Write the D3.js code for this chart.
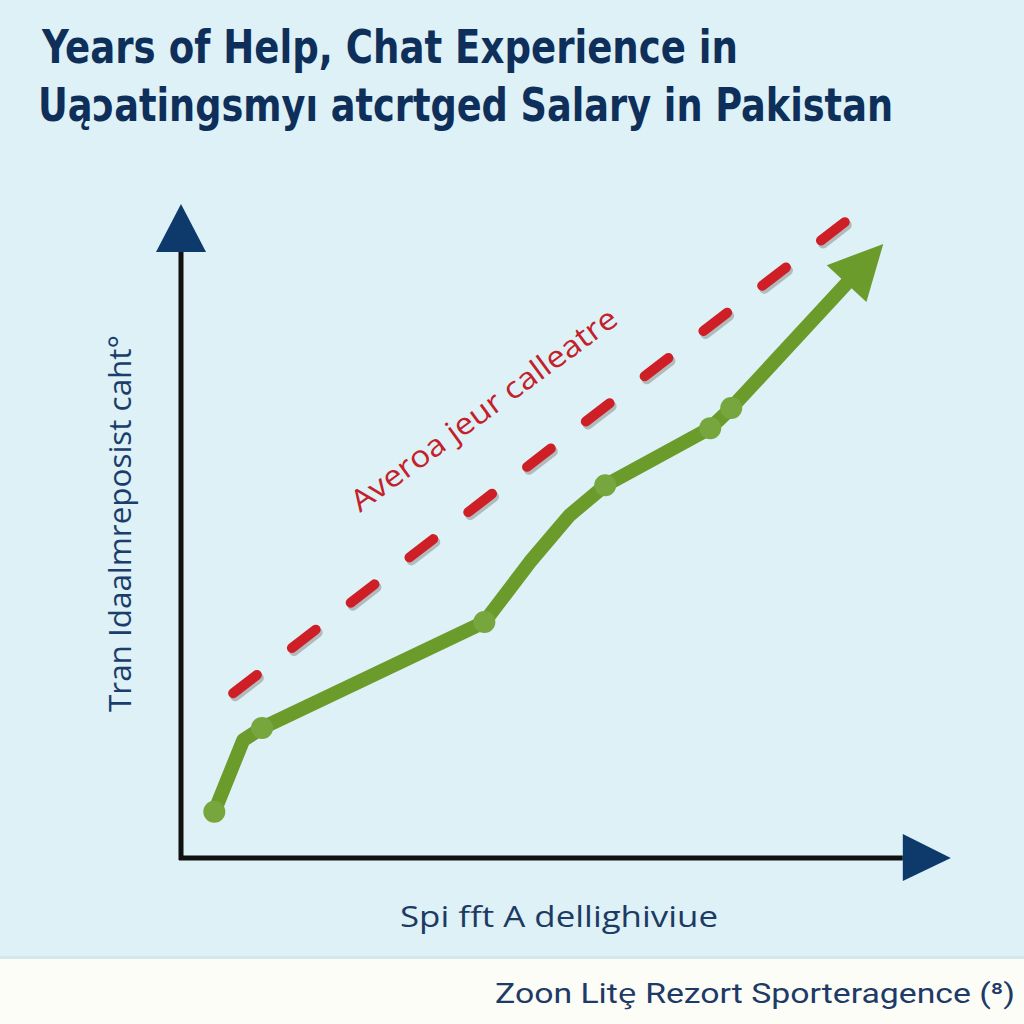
<!DOCTYPE html>
<html><head><meta charset="utf-8">
<script src="https://cdn.jsdelivr.net/npm/d3@7"></script>
<style>html,body{margin:0;padding:0;background:#ddf1f6;}svg{display:block;}</style>
</head><body>
<script>
// ---- data ----
const titleLines = ["Years of Help, Chat Experience in", "Uąɔatingsmyı atcrtged Salary in Pakistan"];
const yLabel = "Tran Idaalmreposist caht°";
const xLabel = "Spi fft A dellighiviue";
const avgLabel = "Averoa jeur calleatre";
const footer = "Zoon Litȩ Rezort Sporteragence (⁸)";

const years  = [0.46, 0.86, 1.12, 4.19, 4.82, 5.37, 5.86, 7.31, 7.60, 9.70];
const salary = [7.6, 19.4, 21.4, 38.8, 48.7, 56.4, 61.3, 70.7, 74.0, 101.0];
const marked = [true, false, true, true, false, false, true, true, true, false];

const avgYears  = [0.72, 9.17];
const avgSalary = [27.1, 104.6];

// ---- setup ----
const W = 1024, H = 1024;
const svg = d3.select("body").append("svg").attr("width", W).attr("height", H);
const x = d3.scaleLinear().domain([0, 10]).range([181, 905]);
const y = d3.scaleLinear().domain([0, 100]).range([858, 250]);

svg.append("rect").attr("width", W).attr("height", 960).attr("fill", "#ddf1f6");
svg.append("rect").attr("y", 959).attr("width", W).attr("height", 65).attr("fill", "#fdfdf8");
svg.append("rect").attr("y", 956).attr("width", W).attr("height", 3).attr("fill", "#d4e8ec");

// ---- title ----
const navy = "#0f2f5b";
const tl = [{t: titleLines[0], x: 42, y: 63, w: 696}, {t: titleLines[1], x: 38, y: 121, w: 855}];
svg.selectAll("text.title").data(tl).join("text").attr("class", "title")
  .attr("x", d => d.x).attr("y", d => d.y)
  .attr("textLength", d => d.w).attr("lengthAdjust", "spacingAndGlyphs")
  .attr("font-family", "'DejaVu Sans Condensed', 'Open Sans', sans-serif")
  .attr("font-weight", "bold").attr("font-size", 46).attr("fill", navy)
  .text(d => d.t);

// ---- axes ----
const x0 = x(0), y0 = y(0);
svg.append("line").attr("x1", x0).attr("y1", y0 + 2).attr("x2", x0).attr("y2", y(100) + 2)
  .attr("stroke", "#111").attr("stroke-width", 5);
svg.append("line").attr("x1", x0 - 2).attr("y1", y0).attr("x2", x(9.97)).attr("y2", y0)
  .attr("stroke", "#111").attr("stroke-width", 5);
svg.append("path").attr("fill", "#0d3a6b")
  .attr("d", `M${x0},${y(100) - 46} L${x0 + 25},${y(100) + 2} L${x0 - 25},${y(100) + 2} Z`);
svg.append("path").attr("fill", "#0d3a6b")
  .attr("d", `M${x(9.97) + 48},${y0} L${x(9.97)},${y0 - 24} L${x(9.97)},${y0 + 23} Z`);

// ---- axis labels ----
svg.append("text").attr("transform", `translate(131,${(712 + 335) / 2}) rotate(-90)`)
  .attr("text-anchor", "middle").attr("textLength", 377).attr("lengthAdjust", "spacingAndGlyphs")
  .attr("font-family", "'Open Sans', sans-serif").attr("font-size", 31).attr("fill", "#1a3d6b")
  .text(yLabel);
svg.append("text").attr("x", 559).attr("y", 927).attr("text-anchor", "middle")
  .attr("textLength", 318).attr("lengthAdjust", "spacingAndGlyphs")
  .attr("font-family", "'Open Sans', sans-serif").attr("font-size", 30).attr("fill", "#1d3a63")
  .text(xLabel);

// ---- average dashed line ----
const avgData = avgYears.map((v, i) => [v, avgSalary[i]]);
const avgLine = d3.line().x(d => x(d[0])).y(d => y(d[1]));
const dash = "30 44.2";
svg.append("path").attr("d", avgLine(avgData)).attr("transform", "translate(2,3)")
  .attr("fill", "none").attr("stroke", "#8d8d8d").attr("stroke-opacity", 0.55)
  .attr("stroke-width", 10).attr("stroke-linecap", "round").attr("stroke-dasharray", dash);
svg.append("path").attr("d", avgLine(avgData))
  .attr("fill", "none").attr("stroke", "#cf1f26")
  .attr("stroke-width", 10).attr("stroke-linecap", "round").attr("stroke-dasharray", dash);

svg.append("text").attr("transform", "translate(360,513) rotate(-36.2)")
  .attr("textLength", 322).attr("lengthAdjust", "spacingAndGlyphs")
  .attr("font-family", "'Open Sans', sans-serif").attr("font-size", 30).attr("fill", "#c4202a")
  .text(avgLabel);

// ---- green series ----
const pts = years.map((v, i) => [x(v), y(salary[i])]);
const tip = pts[pts.length - 1], prev = pts[pts.length - 2];
const dx = tip[0] - prev[0], dy = tip[1] - prev[1], len = Math.hypot(dx, dy);
const ux = dx / len, uy = dy / len;
const headLen = 54, headHalf = 27;
const base = [tip[0] - ux * headLen, tip[1] - uy * headLen];
const linePts = pts.slice(0, -1).concat([[base[0] + ux * 4, base[1] + uy * 4]]);
const green = "#6a9b2b";
svg.append("path").attr("d", d3.line()(linePts)).attr("fill", "none")
  .attr("stroke", green).attr("stroke-width", 14)
  .attr("stroke-linejoin", "round").attr("stroke-linecap", "round");
svg.append("path").attr("fill", green)
  .attr("d", `M${tip[0]},${tip[1]} L${base[0] - uy * headHalf},${base[1] + ux * headHalf} L${base[0] + uy * headHalf},${base[1] - ux * headHalf} Z`);

svg.selectAll("circle.m").data(years.map((v, i) => ({v, s: salary[i], m: marked[i]})).filter(d => d.m))
  .join("circle").attr("class", "m")
  .attr("cx", d => x(d.v)).attr("cy", d => y(d.s)).attr("r", 11)
  .attr("fill", "#76a63d");

// ---- footer ----
svg.append("text").attr("x", 1015).attr("y", 1003).attr("text-anchor", "end")
  .attr("textLength", 520).attr("lengthAdjust", "spacingAndGlyphs")
  .attr("font-family", "Roboto, 'Open Sans', sans-serif").attr("font-size", 28).attr("fill", "#1e3a66")
  .text(footer);
</script>
</body></html>
